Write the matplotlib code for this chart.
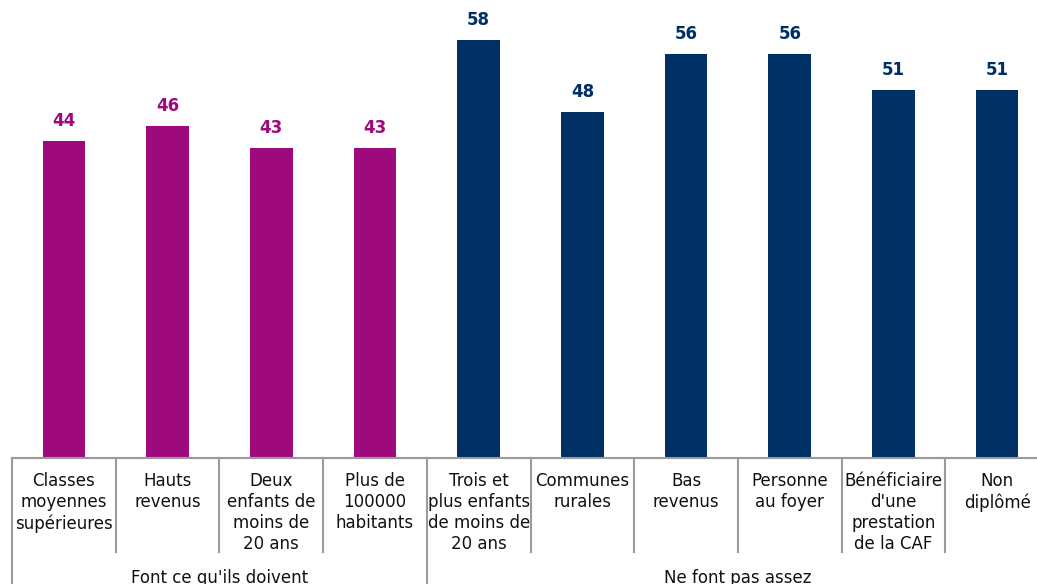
import matplotlib.pyplot as plt

# Données
categories = ["Classes\nmoyennes\nsupérieures", "Hauts\nrevenus", "Deux\nenfants de\nmoins de\n20 ans",
              "Plus de\n100000\nhabitants", "Trois et\nplus enfants\nde moins de\n20 ans", "Communes\nrurales",
              "Bas\nrevenus", "Personne\nau foyer", "Bénéficiaire\nd'une\nprestation\nde la CAF", "Non\ndiplômé"]
valeurs = [44, 46, 43, 43, 58, 48, 56, 56, 51, 51]
groupes = ["Font ce qu'ils doivent", "Ne font pas assez"]
taille_groupes = [4, 6]

magenta = "#9E0A7C"
marine = "#003064"
gris = "#9A9A9A"
couleurs = [magenta] * taille_groupes[0] + [marine] * taille_groupes[1]

plt.rcParams['font.family'] = ['DejaVu Sans']

fig = plt.figure(figsize=(10.37, 5.84), dpi=100)
ax = fig.add_axes([12 / 1037, 126 / 584, 1037 / 1037, 458 / 584])

x = list(range(len(valeurs)))
barres = ax.bar(x, valeurs, width=0.41, color=couleurs)
ax.set_xlim(-0.5, len(valeurs) - 0.5)
ax.set_ylim(0, 63.5)

for xi, v, c in zip(x, valeurs, couleurs):
    ax.text(xi, v + 1.5, str(v), ha="center", va="bottom", color=c,
            fontsize=12, fontweight="bold")

for s in ["top", "right", "left"]:
    ax.spines[s].set_visible(False)
ax.spines["bottom"].set_color(gris)
ax.spines["bottom"].set_linewidth(1.5)
ax.set_xticks([])
ax.set_yticks([])

trans = ax.get_xaxis_transform()
for xi, lab in zip(x, categories):
    ax.text(xi, -0.031, lab, transform=trans, ha="center", va="top",
            fontsize=12, color="#111111", linespacing=1.22)

# séparateurs des catégories et des groupes
bords_groupes = [-0.5]
for n in taille_groupes:
    bords_groupes.append(bords_groupes[-1] + n)
for b in range(len(valeurs) + 1):
    pos = b - 0.5
    bas = -0.28 if pos in bords_groupes else -0.205
    ax.plot([pos, pos], [0, bas], transform=trans, color=gris, lw=1.5, clip_on=False)

for i, g in enumerate(groupes):
    centre = (bords_groupes[i] + bords_groupes[i + 1]) / 2
    ax.text(centre, -0.262, g, transform=trans, ha="center", va="center",
            fontsize=12, color="#111111")

fig.savefig("out.png", dpi=100)
